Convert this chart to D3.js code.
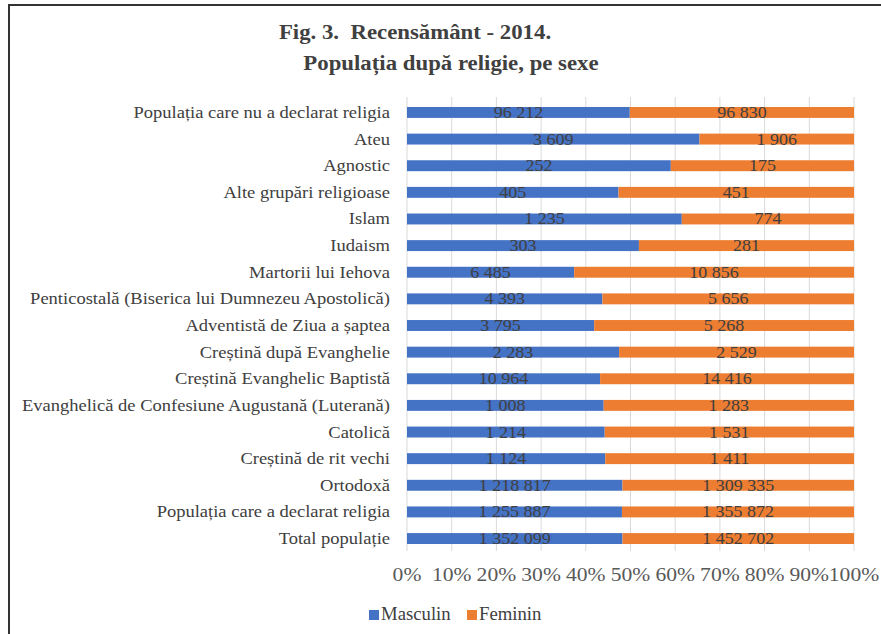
<!DOCTYPE html>
<html><head><meta charset="utf-8">
<script src="https://cdn.jsdelivr.net/npm/d3@7"></script>
<style>body{margin:0;background:#fff}svg{display:block}</style>
</head><body>
<svg id="c" width="881" height="634"></svg>
<script>
const categories = ["Populația care nu a declarat religia","Ateu","Agnostic","Alte grupări religioase","Islam","Iudaism","Martorii lui Iehova","Penticostală (Biserica lui Dumnezeu Apostolică)","Adventistă de Ziua a șaptea","Creștină după Evanghelie","Creștină Evanghelic Baptistă","Evanghelică de Confesiune Augustană (Luterană)","Catolică","Creștină de rit vechi","Ortodoxă","Populația care a declarat religia","Total populație"];
const masculin = [96212,3609,252,405,1235,303,6485,4393,3795,2283,10964,1008,1214,1124,1218817,1255887,1352099];
const feminin = [96830,1906,175,451,774,281,10856,5656,5268,2529,14416,1283,1531,1411,1309335,1355872,1452702];
const seriesNames = ["Masculin","Feminin"];
const colors = ["#4472C4","#ED7D31"];
const tickValues = [0,0.1,0.2,0.3,0.4,0.5,0.6,0.7,0.8,0.9,1];

const svg = d3.select("#c");
const font = "'Liberation Serif','Times New Roman',serif";

function txt(parent, x, y, s, opts){
  const t = parent.append("text")
    .attr("transform",`translate(${x},${y}) scale(${opts.sx||1},1)`)
    .attr("text-anchor",opts.anchor||"start")
    .attr("font-family",font)
    .attr("font-size",opts.size||15)
    .attr("font-weight",opts.weight||"normal")
    .attr("fill",opts.fill||"#404040")
    .attr("xml:space","preserve")
    .text(s);
  return t;
}

// frame
svg.append("line").attr("x1",8).attr("x2",881).attr("y1",5).attr("y2",5).attr("stroke","#333").attr("stroke-width",2);
svg.append("line").attr("x1",9).attr("x2",9).attr("y1",5).attr("y2",634).attr("stroke","#333").attr("stroke-width",2);

// title
txt(svg,415,39,"Fig. 3.  Recensământ - 2014.",{anchor:"middle",size:20,weight:"bold",sx:1.14});
txt(svg,451,70,"Populația după religie, pe sexe",{anchor:"middle",size:20,weight:"bold",sx:1.14});

const x = d3.scaleLinear().domain([0,1]).range([407,854]);
const y = d3.scaleBand().domain(categories).range([99,552]).paddingInner(0.59).paddingOuter(0.3);

// gridlines
svg.append("g").selectAll("line").data(tickValues).join("line")
  .attr("x1",d=>x(d)).attr("x2",d=>x(d)).attr("y1",97).attr("y2",551)
  .attr("stroke","#d9d9d9").attr("stroke-width",1);

const data = categories.map((c,i)=>({c, m:masculin[i], f:feminin[i], t:masculin[i]+feminin[i]}));
const fmt = v => d3.format(",")(v).replace(/,/g," ");

const g = svg.append("g");
data.forEach(d=>{
  const pm = d.m/d.t;
  g.append("rect").attr("x",x(0)).attr("y",y(d.c)).attr("width",x(pm)-x(0)).attr("height",y.bandwidth()).attr("fill",colors[0]);
  g.append("rect").attr("x",x(pm)).attr("y",y(d.c)).attr("width",x(1)-x(pm)).attr("height",y.bandwidth()).attr("fill",colors[1]);
  const cy = y(d.c)+y.bandwidth()/2+5.5;
  txt(g,(x(0)+x(pm))/2,cy,fmt(d.m),{anchor:"middle",size:17,sx:1.06});
  txt(g,(x(pm)+x(1))/2,cy,fmt(d.f),{anchor:"middle",size:17,sx:1.06});
  txt(g,390,cy,d.c,{anchor:"end",size:17,sx:1.09});
});

// x axis
const ax = svg.append("g").attr("transform","translate(0,581)");
tickValues.forEach(v=>{
  txt(ax,x(v),0,d3.format(".0%")(v),{anchor:"middle",size:18,sx:1.2,fill:"#595959"});
});

// legend
const leg = svg.append("g");
const lx = [369,467];
seriesNames.forEach((s,i)=>{
  leg.append("rect").attr("x",lx[i]).attr("y",610).attr("width",10).attr("height",10).attr("fill",colors[i]);
  txt(leg,lx[i]+12,620,s,{size:18,sx:1.04});
});
</script>
</body></html>
